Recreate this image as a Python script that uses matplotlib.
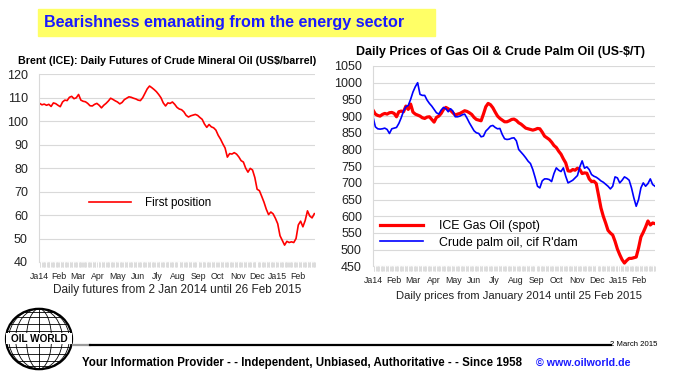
import matplotlib

matplotlib.use("Agg")
import matplotlib.dates as mdates
import matplotlib.pyplot as plt
import numpy as np
import pandas as pd
from matplotlib.lines import Line2D
from matplotlib.patches import Ellipse, Rectangle

W, H = 674, 375

# Brent, first position (US$/barrel), sampled about twice a week
brent_start, brent_end = "2014-01-02", "2015-02-26"
brent = [
    107.6, 107.0, 107.3, 106.8, 107.2, 106.3, 107.8, 107.5, 106.8, 106.2,
    108.2, 109.0, 108.8, 110.2, 110.6, 109.6, 110.0, 111.4, 109.0, 108.5,
    108.3, 107.6, 106.6, 106.5, 107.2, 107.6, 106.8, 105.7, 106.8, 107.6,
    108.6, 109.8, 109.3, 108.7, 108.2, 107.4, 108.0, 109.2, 109.8, 110.4,
    110.2, 109.8, 109.5, 109.0, 108.8, 110.0, 111.9, 113.8, 115.0, 114.3,
    113.5, 112.6, 111.4, 110.0, 107.8, 106.5, 107.8, 107.6, 108.2, 107.2,
    105.9, 105.2, 104.9, 104.0, 102.5, 101.8, 102.3, 102.6, 102.9, 102.5,
    101.6, 100.8, 98.8, 97.4, 98.6, 97.6, 97.2, 96.2, 94.0, 92.4,
    90.4, 88.6, 84.7, 86.2, 86.0, 86.6, 86.0, 84.8, 83.2, 82.6,
    80.0, 78.3, 79.9, 79.2, 76.0, 71.0, 70.4, 68.0, 65.5, 62.5,
    60.2, 61.3, 60.5, 58.6, 56.3, 51.2, 49.2, 47.2, 48.8, 48.3,
    48.6, 48.3, 50.0, 55.8, 57.4, 55.0, 57.7, 61.8, 59.6, 58.8,
    60.6,
]

# Gas oil and crude palm oil (US$/t), sampled about twice a week
oil_start, oil_end = "2014-01-01", "2015-02-25"
gasoil = [
    918, 906, 902, 900, 905, 908, 906, 910, 911, 908,
    898, 913, 915, 913, 930, 920, 936, 912, 906, 903,
    900, 895, 893, 897, 898, 890, 882, 896, 900, 908,
    920, 926, 922, 917, 910, 903, 906, 908, 912, 916,
    914, 910, 905, 896, 890, 888, 886, 906, 928, 938,
    934, 925, 912, 900, 893, 888, 883, 883, 886, 890,
    891, 887, 880, 876, 870, 864, 862, 860, 858, 860,
    863, 862, 852, 840, 835, 830, 822, 812, 806, 795,
    786, 772, 760, 736, 735, 740, 738, 744, 740, 728,
    730, 729, 712, 704, 705, 698, 662, 625, 600, 580,
    558, 550, 544, 525, 502, 485, 470, 460, 468, 474,
    474, 476, 478, 505, 538, 552, 568, 586, 574, 580,
    578,
]
palm = [
    898, 868, 862, 861, 862, 864, 860, 848, 862, 864,
    866, 878, 895, 915, 928, 932, 950, 972, 988, 1000,
    965, 962, 962, 948, 938, 930, 920, 910, 906, 918,
    926, 922, 913, 922, 915, 898, 898, 900, 904, 906,
    894, 880, 868, 856, 850, 848, 838, 840, 855, 862,
    870, 872, 866, 862, 863, 845, 832, 830, 831, 834,
    835, 826, 800, 792, 784, 775, 765, 758, 740, 716,
    690, 685, 706, 712, 712, 710, 704, 728, 745, 738,
    734, 745, 720, 700, 704, 708, 715, 722, 748, 766,
    744, 748, 740, 725, 720, 717, 712, 706, 702, 696,
    690, 682, 690, 718, 715, 700, 708, 718, 714, 708,
    685, 655, 630, 650, 685, 700, 690, 698, 712, 695,
    690,
]

month_names = ["Ja", "Feb", "Mar", "Apr", "May", "Jun", "Jly",
               "Aug", "Sep", "Oct", "Nov", "Dec"]

plt.rcParams["font.family"] = ["Liberation Sans", "DejaVu Sans"]


def box(x0, y0, w, h):
    # pixel box measured from top-left -> figure fraction rect
    return [x0 / W, 1 - (y0 + h) / H, w / W, h / H]


def fx(x):
    return x / W


def fy(y):
    return 1 - y / H


def month_label(x, pos):
    d = mdates.num2date(x)
    if d.month == 1:
        return "Ja" + d.strftime("%y")
    return month_names[d.month - 1]


def style_axes(ax, lo, hi, step, start, end):
    ax.set_ylim(lo, hi)
    ax.set_yticks(np.arange(lo, hi + 1, step))
    ax.grid(axis="y", color="#d9d9d9", linewidth=0.8)
    ax.set_axisbelow(True)
    for side in ("top", "right", "bottom"):
        ax.spines[side].set_visible(False)
    ax.spines["left"].set_color("#d9d9d9")
    ax.set_xlim(pd.Timestamp(start), pd.Timestamp(end))
    ax.xaxis.set_major_locator(mdates.MonthLocator())
    ax.xaxis.set_major_formatter(plt.FuncFormatter(month_label))
    ax.xaxis.set_minor_locator(mdates.WeekdayLocator(byweekday=(0, 1, 2, 3, 4)))
    ax.tick_params(axis="x", which="major", length=0, pad=7, labelsize=6.3,
                   colors="#222222")
    ax.tick_params(axis="x", which="minor", length=3.6, width=0.7,
                   color="#dcdcdc")
    ax.tick_params(axis="y", length=0, pad=8, labelsize=9, colors="#222222")


fig = plt.figure(figsize=(W / 100, H / 100), dpi=100)

# headline
fig.add_artist(Rectangle((fx(38), fy(36)), (435 - 38) / W, 27 / H,
                         transform=fig.transFigure, color="#ffff66", zorder=0))
fig.text(fx(44), fy(22), "Bearishness emanating from the energy sector",
         fontsize=11.6, fontweight="bold", color="#1a1aff", va="center")

# left chart: Brent
ax1 = fig.add_axes(box(39, 74.3, 276, 187.7))
style_axes(ax1, 40, 120, 10, "2014-01-01", "2015-02-27")
brent_dates = pd.date_range(brent_start, brent_end, periods=len(brent))
ax1.plot(brent_dates, brent, color="#ff0000", linewidth=1.2, label="First position")
ax1.legend(loc="center left", bbox_to_anchor=(0.181, 0.314), frameon=False,
           fontsize=8.4, handlelength=3.6, handletextpad=1.2, borderpad=0,
           borderaxespad=0)
fig.text(fx(167.5), fy(61), "Brent (ICE): Daily Futures of Crude Mineral Oil (US$/barrel)",
         fontsize=7.7, fontweight="bold", ha="center", va="center")
fig.text(fx(177.5), fy(290), "Daily futures from 2 Jan 2014 until 26 Feb 2015",
         fontsize=8.5, ha="center", va="center", color="#222222")

# right chart: gas oil and palm oil
ax2 = fig.add_axes(box(373, 66, 282, 200.4))
style_axes(ax2, 450, 1050, 50, oil_start, oil_end)
oil_dates = pd.date_range(oil_start, oil_end, periods=len(gasoil))
ax2.plot(oil_dates, gasoil, color="#ff0000", linewidth=2.3, label="ICE Gas Oil (spot)")
ax2.plot(pd.date_range(oil_start, oil_end, periods=len(palm)), palm,
         color="#0000ff", linewidth=1.2, label="Crude palm oil, cif R'dam")
ax2.legend(loc="center left", bbox_to_anchor=(0.025, 0.159), frameon=False,
           fontsize=8.9, handlelength=3.5, handletextpad=1.25, labelspacing=0.35,
           borderpad=0, borderaxespad=0)
fig.text(fx(501), fy(52), "Daily Prices of Gas Oil & Crude Palm Oil (US-$/T)",
         fontsize=8.9, fontweight="bold", ha="center", va="center")
fig.text(fx(519), fy(296), "Daily prices from January 2014 until 25 Feb 2015",
         fontsize=8.1, ha="center", va="center", color="#222222")

# logo
lg = fig.add_axes(box(4, 307, 70, 64))
lg.set_xlim(-1.06, 1.06)
lg.set_ylim(-1.06, 1.06)
lg.axis("off")
globe = Ellipse((0, 0), 2, 2, facecolor="white", edgecolor="black", linewidth=1.6)
lg.add_patch(globe)
for half in (0.38, 0.71, 0.92):
    m = Ellipse((0, 0), 2 * half, 2, fill=False, edgecolor="black", linewidth=0.6)
    lg.add_patch(m)
    m.set_clip_path(globe)
lg.plot([0, 0], [-1, 1], color="black", linewidth=0.6)
for lat in (-0.9, -0.72, -0.5, -0.25, 0.25, 0.5, 0.72, 0.9):
    ln, = lg.plot([-1, 1], [lat, lat], color="black", linewidth=0.6)
    ln.set_clip_path(globe)
lg.add_patch(Rectangle((-1.0, -0.17), 2.0, 0.36, facecolor="white",
                       edgecolor="none", zorder=3))
lg.text(0, 0.0, "OIL WORLD", fontsize=7.2, fontweight="bold", ha="center",
        va="center", zorder=4)

# footer
fig.add_artist(Line2D([fx(73), fx(90)], [fy(345), fy(345)], color="#9a9a9a",
                      linewidth=1.6, transform=fig.transFigure))
fig.add_artist(Line2D([fx(90), fx(611)], [fy(345), fy(345)], color="black",
                      linewidth=1.6, transform=fig.transFigure))
fig.text(fx(657), fy(345), "2 March 2015", fontsize=5.6, ha="right", va="center")
fig.text(fx(82), fy(363),
         "Your Information Provider - - Independent, Unbiased, Authoritative - - Since 1958",
         fontsize=8.3, fontweight="bold", va="center")
fig.text(fx(536), fy(363), "\u00a9 www.oilworld.de", fontsize=7.7,
         fontweight="bold", color="#1a1aff", va="center")

fig.savefig("out.png", dpi=100)
